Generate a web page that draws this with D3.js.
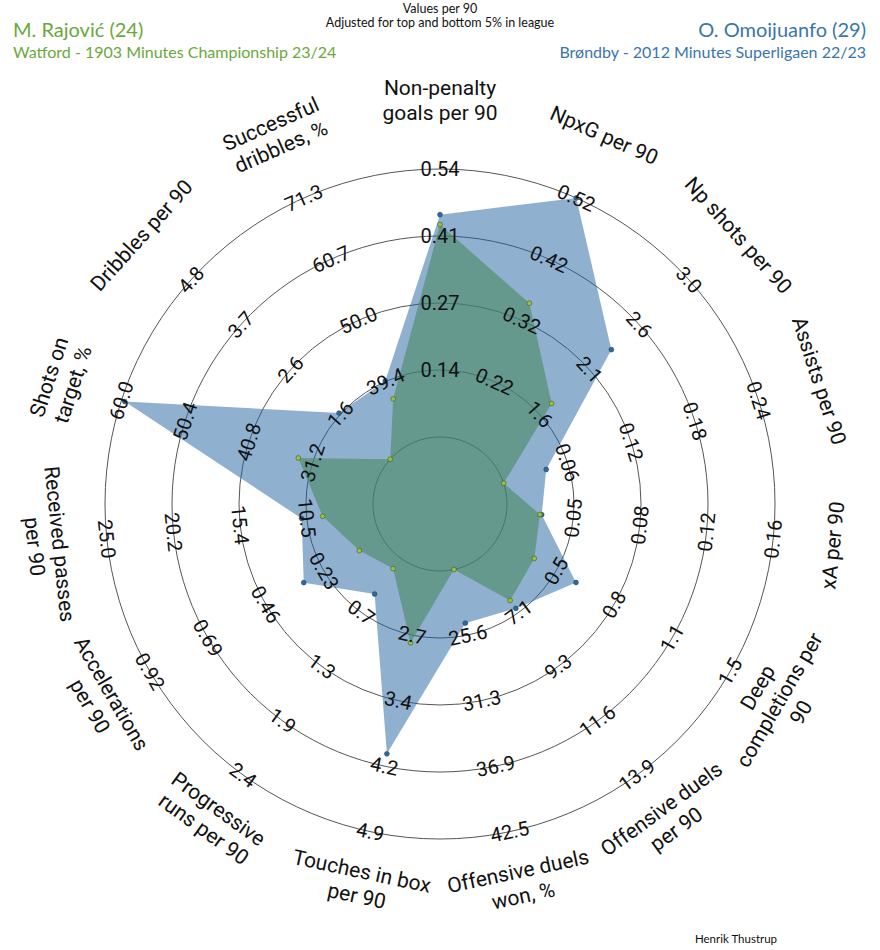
<!DOCTYPE html>
<html>
<head>
<meta charset="utf-8">
<script src="https://cdn.jsdelivr.net/npm/d3@7"></script>
<style>
  html, body { margin: 0; padding: 0; background: #ffffff; }
  svg { display: block; }
</style>
</head>
<body>
<div id="chart"></div>
<script>
const params = [
  "Non-penalty\ngoals per 90", "NpxG per 90", "Np shots per 90", "Assists per 90",
  "xA per 90", "Deep\ncompletions per\n90", "Offensive duels\nper 90", "Offensive duels\nwon, %",
  "Touches in box\nper 90", "Progressive\nruns per 90", "Accelerations\nper 90",
  "Received passes\nper 90", "Shots on\ntarget, %", "Dribbles per 90", "Successful\ndribbles, %"
];
const lowRange  = [0.0, 0.12, 1.13, 0.0, 0.008, 0.18, 4.83, 20.0, 1.97, 0.14, 0.0, 5.67, 21.6, 0.49, 28.77];
const highRange = [0.54, 0.52, 3.03, 0.24, 0.16, 1.46, 13.9, 42.5, 4.9, 2.44, 0.92, 25.0, 60.0, 4.77, 71.3];
const tickLabels = [
  ["0.14", "0.27", "0.41", "0.54"],
  ["0.22", "0.32", "0.42", "0.52"],
  ["1.6", "2.1", "2.6", "3.0"],
  ["0.06", "0.12", "0.18", "0.24"],
  ["0.05", "0.08", "0.12", "0.16"],
  ["0.5", "0.8", "1.1", "1.5"],
  ["7.1", "9.3", "11.6", "13.9"],
  ["25.6", "31.3", "36.9", "42.5"],
  ["2.7", "3.4", "4.2", "4.9"],
  ["0.7", "1.3", "1.9", "2.4"],
  ["0.23", "0.46", "0.69", "0.92"],
  ["10.5", "15.4", "20.2", "25.0"],
  ["31.2", "40.8", "50.4", "60.0"],
  ["1.6", "2.6", "3.7", "4.8"],
  ["39.4", "50.0", "60.7", "71.3"]
];
const rajovic     = [0.428, 0.348, 1.72, 0.0, 0.027, 0.38, 6.6, 20.0, 2.79, 0.25, 0.09, 9.35, 33.35, 0.49, 36.4];
const omoijuanfo  = [0.448, 0.52, 2.29, 0.04, 0.028, 0.61, 6.93, 24.6, 4.03, 0.52, 0.31, 10.87, 59.5, 1.59, 39.5];

const W = 880, H = 950;
const cx = 440, cy = 504;
const rInner = 67, rOuter = 335;
const ringCount = 4;

const svg = d3.select("#chart").append("svg").attr("width", W).attr("height", H);

const n = params.length;
const angle = d3.scaleLinear().domain([0, n]).range([0, 2 * Math.PI]);
const scales = params.map((p, i) =>
  d3.scaleLinear().domain([lowRange[i], highRange[i]]).range([rInner, rOuter]).clamp(true));
const ringScale = d3.scaleLinear().domain([0, ringCount]).range([rInner, rOuter]);

const g = svg.append("g").attr("transform", `translate(${cx},${cy})`);

// rings
g.selectAll("circle.ring").data(d3.range(0, ringCount + 1)).join("circle")
  .attr("class", "ring").attr("r", d => ringScale(d))
  .attr("fill", "none").attr("stroke", "#555").attr("stroke-width", 1);

// polygons
function pts(vals) {
  return vals.map((v, i) => d3.pointRadial(angle(i), scales[i](v)));
}
const line = d3.line().curve(d3.curveLinearClosed);
const blueColor = "rgb(31,100,160)";
const greenColor = "rgb(73,137,98)";
g.append("path").attr("d", line(pts(omoijuanfo))).attr("fill", blueColor).attr("fill-opacity", 0.5);
g.append("path").attr("d", line(pts(rajovic))).attr("fill", greenColor).attr("fill-opacity", 0.6);

// dots
g.selectAll("circle.db").data(pts(omoijuanfo)).join("circle")
  .attr("cx", d => d[0]).attr("cy", d => d[1]).attr("r", 2.4)
  .attr("fill", "#2f6a9e").attr("stroke", "#1c3f5e").attr("stroke-width", 0.6);
g.selectAll("circle.dg").data(pts(rajovic)).join("circle")
  .attr("cx", d => d[0]).attr("cy", d => d[1]).attr("r", 2.4)
  .attr("fill", "#9cc03c").attr("stroke", "#3d5a22").attr("stroke-width", 0.6);

function rot(i) {
  let a = angle(i) * 180 / Math.PI;
  if (a > 90 && a < 270) a -= 180;
  if (a >= 270) a -= 360;
  return a;
}

// range labels
params.forEach((p, i) => {
  tickLabels[i].forEach((t, k) => {
    const [x, y] = d3.pointRadial(angle(i), ringScale(k + 1));
    g.append("text")
      .attr("transform", `translate(${x},${y}) rotate(${rot(i)})`)
      .attr("text-anchor", "middle").attr("dominant-baseline", "central")
      .attr("font-family", "Roboto, 'DejaVu Sans', sans-serif").attr("font-size", 20)
      .attr("fill", "#111").text(t);
  });
});

// param labels
params.forEach((p, i) => {
  const a = angle(i);
  const r = 396 + 8 * Math.cos(a);
  const [x, y] = d3.pointRadial(a, r);
  const lines = p.split("\n");
  const lh = 25;
  const t = g.append("text")
    .attr("transform", `translate(${x},${y}) rotate(${rot(i)})`)
    .attr("text-anchor", "middle").attr("dominant-baseline", "central")
    .attr("font-family", "Roboto, 'DejaVu Sans', sans-serif").attr("font-size", 21)
    .attr("fill", "#111");
  lines.forEach((l, j) => {
    t.append("tspan").attr("x", 0).attr("y", (j - (lines.length - 1) / 2) * lh)
      .attr("dominant-baseline", "central").text(l);
  });
});

// titles
const lato = "Lato, 'Open Sans', sans-serif";
svg.append("text").attr("x", 13).attr("y", 37).attr("font-family", lato).attr("font-size", 20)
  .attr("fill", "#6aa83c").text("M. Rajović (24)");
svg.append("text").attr("x", 13).attr("y", 58).attr("font-family", lato).attr("font-size", 16)
  .attr("fill", "#6aa83c").text("Watford - 1903 Minutes Championship 23/24");
svg.append("text").attr("x", 866).attr("y", 37).attr("text-anchor", "end").attr("font-family", lato).attr("font-size", 20)
  .attr("fill", "#3a75ab").text("O. Omoijuanfo (29)");
svg.append("text").attr("x", 866).attr("y", 58).attr("text-anchor", "end").attr("font-family", lato).attr("font-size", 16)
  .attr("fill", "#3a75ab").text("Brøndby - 2012 Minutes Superligaen 22/23");
svg.append("text").attr("x", 440).attr("y", 13).attr("text-anchor", "middle").attr("font-family", lato).attr("font-size", 12.5)
  .attr("fill", "#111").text("Values per 90");
svg.append("text").attr("x", 440).attr("y", 27).attr("text-anchor", "middle").attr("font-family", lato).attr("font-size", 12.5)
  .attr("fill", "#111").text("Adjusted for top and bottom 5% in league");
svg.append("text").attr("x", 736).attr("y", 943).attr("text-anchor", "middle").attr("font-family", lato).attr("font-size", 11.5)
  .attr("fill", "#111").text("Henrik Thustrup");
</script>
</body>
</html>
